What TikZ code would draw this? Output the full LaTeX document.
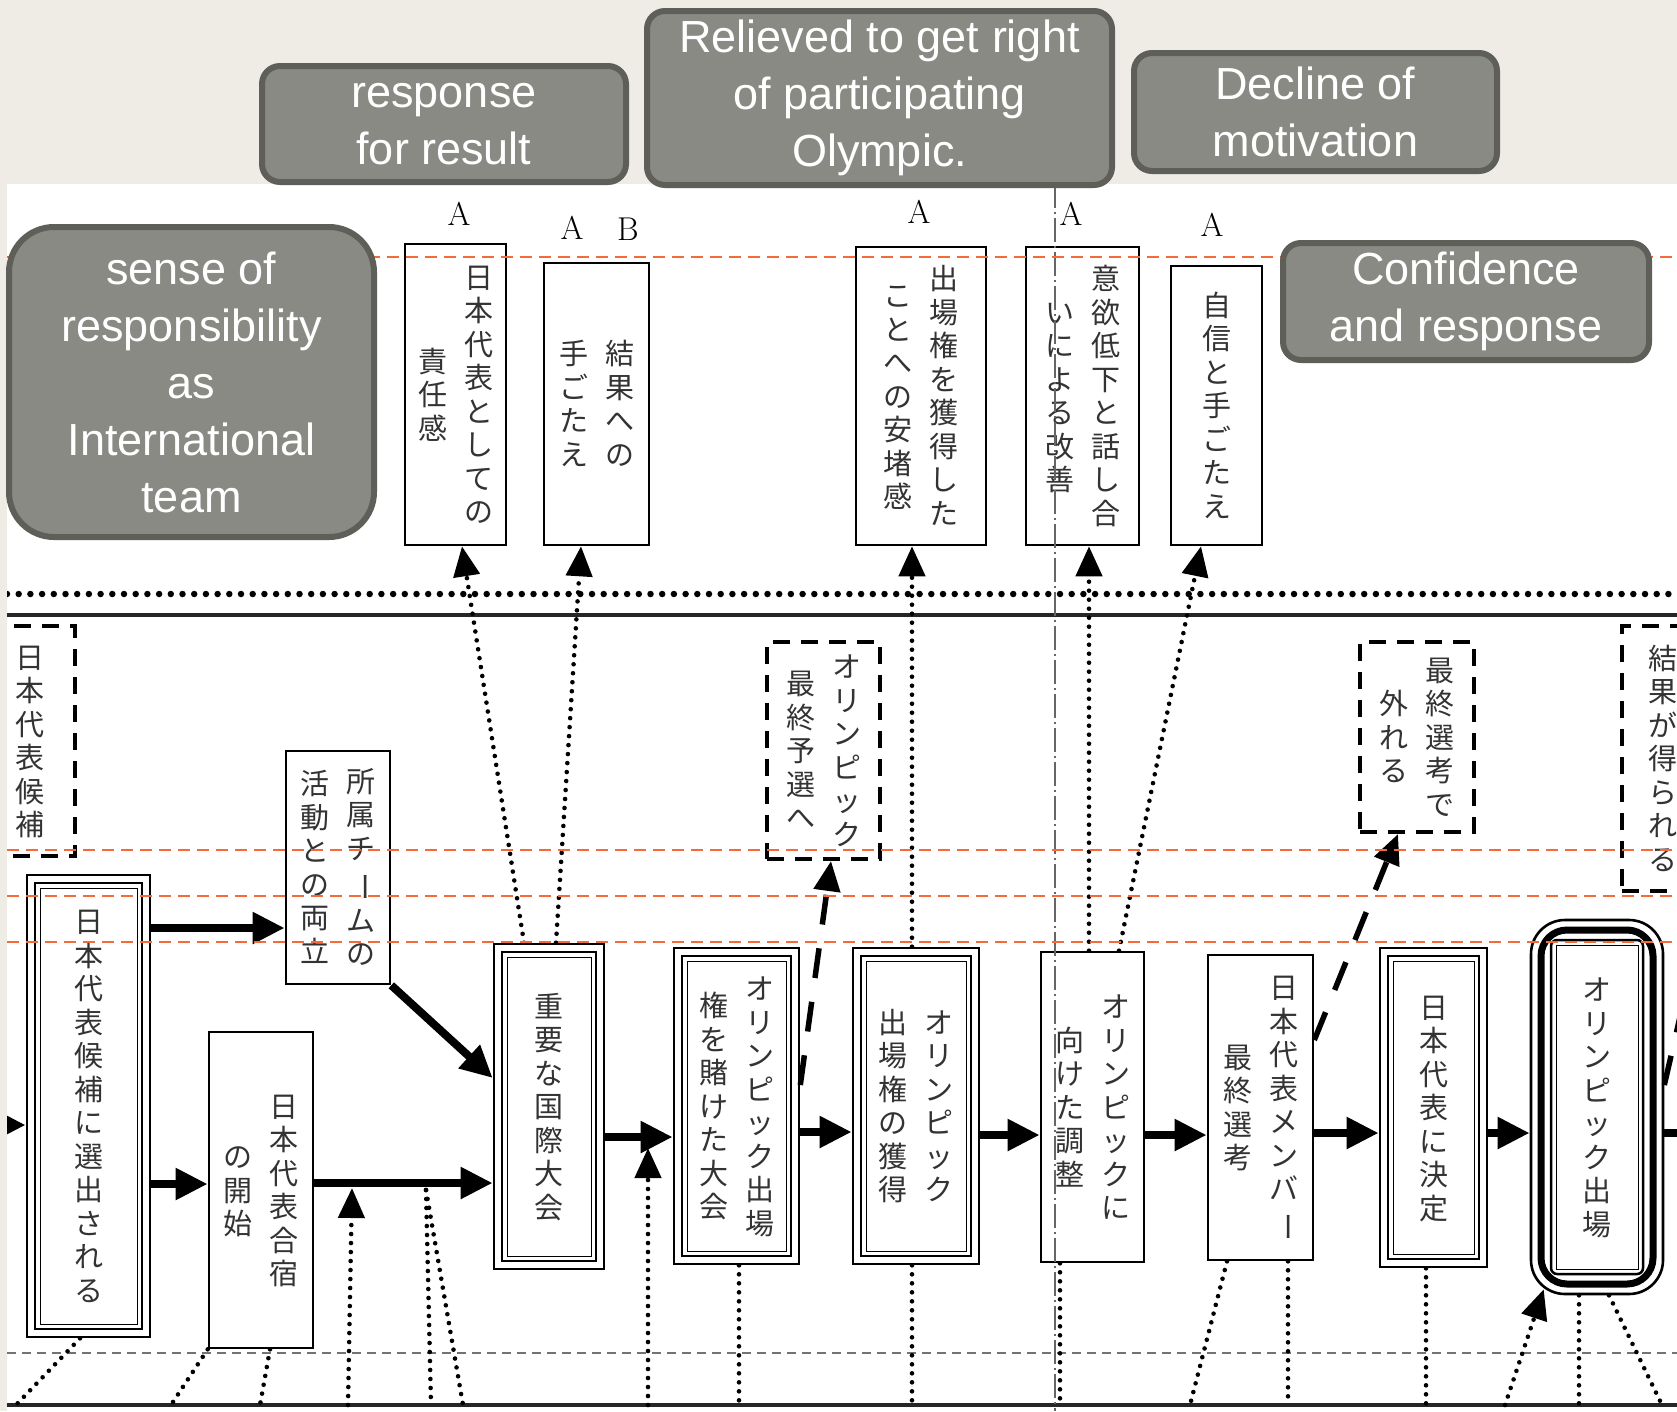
\documentclass[tikz,border=0pt]{standalone}
\usepackage{fontspec}
\usepackage{graphicx}
\usetikzlibrary{arrows.meta,calc}
\newfontfamily\jpfont{Noto Sans CJK JP}
\newfontfamily\gfont{Liberation Sans}
\definecolor{beige}{HTML}{EFECE5}
\definecolor{gfill}{HTML}{8A8A84}
\definecolor{gline}{HTML}{5F5F5A}
\definecolor{orline}{HTML}{F46A3A}

% vertical (tategaki) columns, one character per line
\def\tateend{TATEEND}
\newcommand\cho{\rotatebox[origin=c]{-90}{ー}}
\def\tateloop#1{\ifx\tateend#1\else\hbox to 1em{\hss\vrule height .88em depth .12em width 0pt\relax#1\hss}\vskip .155em\expandafter\tateloop\fi}
\newcommand\tcol[1]{\vbox{\offinterlineskip\tateloop#1\tateend\vskip-.155em}}
\newcommand\tate[2]{$\vcenter{\tcol{#2}}\hskip 17pt\vcenter{\tcol{#1}}$}
\newcommand\tatei[1]{$\vcenter{\tcol{#1}}$}

\begin{document}
\begin{tikzpicture}
	[x=1pt,y=-1pt,
	jbox/.style={draw,line width=2.6pt,fill=white,inner sep=0pt,text=black!80,
		font=\jpfont\fontsize{29}{29}\selectfont},
	wbox/.style={jbox,path picture={
		\draw[line width=2.6pt] ([shift={(8pt,-8pt)}]path picture bounding box.north west)
			rectangle ([shift={(-8pt,8pt)}]path picture bounding box.south east);
		\draw[line width=1pt] ([shift={(13pt,-13pt)}]path picture bounding box.north west)
			rectangle ([shift={(-13pt,13pt)}]path picture bounding box.south east);}},
	obox/.style={jbox,rounded corners=34pt,path picture={
		\draw[line width=7pt,rounded corners=26pt] ([shift={(10pt,-10pt)}]path picture bounding box.north west)
			rectangle ([shift={(-10pt,10pt)}]path picture bounding box.south east);
		\draw[line width=2.5pt,rounded corners=6pt] ([shift={(20pt,-20pt)}]path picture bounding box.north west)
			rectangle ([shift={(-20pt,20pt)}]path picture bounding box.south east);
		\draw[line width=1pt,sharp corners] ([shift={(25pt,-25pt)}]path picture bounding box.north west)
			rectangle ([shift={(-25pt,25pt)}]path picture bounding box.south east);}},
	dbox/.style={jbox,line width=4pt,dash pattern=on 17pt off 11pt},
	gbox/.style={draw=gline,fill=gfill,line width=6pt,rounded corners=18pt,inner sep=0pt,
		text=white,align=center,font=\gfont\fontsize{45}{57}\selectfont},
	flow/.style={line width=8pt,-{Triangle[length=32pt,width=30pt]}},
	dotl/.style={line width=4.6pt,line cap=round,dash pattern=on 0pt off 9pt},
	upar/.style={dotl,-{Triangle[length=30pt,width=26pt]}},
	dsh/.style={line width=5.5pt,dash pattern=on 30pt off 24pt,-{Triangle[length=30pt,width=26pt]}},
	orl/.style={orline,line width=2.8pt,dash pattern=on 12pt off 7pt},
	lab/.style={font=\fontsize{33}{33}\selectfont,inner sep=0pt}]
	\useasboundingbox (0,0) rectangle (1677,1411);
	\fill[beige] (0,0) rectangle (1677,1411);
	\fill[white] (7,184) rectangle (1677,1411);
	\begin{scope}
	\clip (7,184) rectangle (1677,1411);
	\draw[line width=6.5pt,line cap=round,dash pattern=on 0pt off 11.7pt] (7,594) -- (1677,594);
	\draw[line width=4pt,black!85] (7,615) -- (1677,615);
	\draw[black!55,line width=1.3pt,dash pattern=on 9pt off 6pt] (7,1353) -- (1677,1353);
	\draw[line width=3.5pt,black!85] (7,1405) -- (1677,1405);
	\coordinate (bot) at (0,1405);
	\coordinate (j1) at (426,1190);
	\coordinate (j2) at (352,1188);
	\coordinate (j3) at (648,1148);
	\coordinate (in0) at (-40,1125);
	\coordinate (out0) at (1700,1133);
	\coordinate (out1) at (1700,930);
	% upper row
	\node[jbox,minimum width=101pt,minimum height=301pt] (u1) at (455.5,394.5) {\tate{日本代表としての}{責任感}};
	\node[jbox,minimum width=105pt,minimum height=282pt] (u2) at (596.5,404) {\tate{結果への}{手ごたえ}};
	\node[jbox,minimum width=130pt,minimum height=298pt] (u3) at (921,396) {\tate{出場権を獲得した}{ことへの安堵感}};
	\node[jbox,minimum width=113pt,minimum height=298pt] (u4) at (1082.5,396) {\tate{意欲低下と話し合}{いによる改善}};
	\node[jbox,minimum width=91pt,minimum height=279pt] (u5) at (1216.5,405.5) {\tatei{自信と手ごたえ}};
	% dashed boxes
	\node[dbox,minimum width=90pt,minimum height=230pt] (d1) at (30,741) {\tatei{日本代表候補}};
	\node[dbox,minimum width=113pt,minimum height=217pt] (d2) at (823.5,750.5) {\tate{オリンピック}{最終予選へ}};
	\node[dbox,minimum width=114pt,minimum height=190pt] (d3) at (1417,737) {\tate{最終選考で}{外れる}};
	\node[dbox,minimum width=82pt,minimum height=265pt] (d4) at (1663,758.5) {\tatei{結果が得られる}};
	% main row
	\node[wbox,minimum width=123pt,minimum height=462pt] (m1) at (88.5,1106) {\tatei{日本代表候補に選出される}};
	\node[jbox,minimum width=104pt,minimum height=233pt] (m2) at (338,867.5) {\tate{所属チ\cho ムの}{活動との両立}};
	\node[jbox,minimum width=104pt,minimum height=316pt] (m3) at (261,1190) {\tate{日本代表合宿}{の開始}};
	\node[wbox,minimum width=110pt,minimum height=325pt] (m4) at (549,1106.5) {\tatei{重要な国際大会}};
	\node[wbox,minimum width=125pt,minimum height=316pt] (m5) at (736.5,1106) {\tate{オリンピック出場}{権を賭けた大会}};
	\node[wbox,minimum width=126pt,minimum height=316pt] (m6) at (916,1106) {\tate{オリンピック}{出場権の獲得}};
	\node[jbox,minimum width=103pt,minimum height=310pt] (m7) at (1092.5,1107) {\tate{オリンピックに}{向けた調整}};
	\node[jbox,minimum width=105pt,minimum height=305pt] (m8) at (1260.5,1107.5) {\tate{日本代表メンバ\cho}{最終選考}};
	\node[wbox,minimum width=107pt,minimum height=319pt] (m9) at (1433.5,1107.5) {\tatei{日本代表に決定}};
	\node[obox,minimum width=132pt,minimum height=374pt] (m10) at (1597,1107) {\tatei{オリンピック出場}};
	% flow
	\draw[flow] (in0) -- (m1.west |- in0);
	\draw[flow] (m1.east |- 0,928) -- (m2.west |- 0,928);
	\draw[flow] (m1.east |- 0,1184) -- (m3.west |- 0,1184);
	\draw[flow] (m3.east |- 0,1183) -- (m4.west |- 0,1183);
	\draw[flow] (m2.south east) -- (m4.west |- 0,1078);
	\foreach \a/\b/\y in {m4/m5/1137,m5/m6/1132,m6/m7/1135,m7/m8/1135,m8/m9/1133,m9/m10/1133}
		\draw[flow] (\a.east |- 0,\y) -- (\b.west |- 0,\y);
	\draw[line width=8pt] (m10.east |- out0) -- (out0);
	\draw[dsh] (m5.east |- 0,1085) -- (d2.south -| 831,0);
	\draw[dsh] (m8.east |- 0,1040) -- (d3.south -| 1398,0);
	\draw[dsh,-] (m10.east |- 0,1085) -- (out1);
	% links up to the upper row
	\foreach \a/\xa/\b/\xb in {m4/524/u1/462,m4/556/u2/581,m6/912/u3/912,m7/1089/u4/1089,m7/1119/u5/1201}
		\draw[upar] (\a.north -| \xa,0) -- (\b.south -| \xb,0);
	% links down
	\foreach \a/\x in {m5/739,m6/912,m7/1060,m8/1288,m9/1426,m10/1579}
		\draw[dotl] (\a.south -| \x,0) -- (bot -| \x,0);
	\draw[dotl] (m1.south -| 80,0) -- (bot -| 16,0);
	\draw[dotl] (m3.south west) -- (bot -| 171,0);
	\draw[dotl] (m3.south -| 270,0) -- (bot -| 260,0);
	\draw[dotl] (j1) -- (bot -| 431,0);
	\draw[dotl] (j1) -- (bot -| 463,0);
	\draw[dotl] (m8.south -| 1227,0) -- (bot -| 1190,0);
	\draw[dotl] (m10.south -| 1609,0) -- (bot -| 1662,0);
	\draw[upar] (bot -| 348,0) -- (j2);
	\draw[upar] (bot -| 648,0) -- (j3);
	\draw[upar] (bot -| 1505,0) -- ([xshift=14pt,yshift=6pt]m10.south west);
	\draw[black!60,line width=1.2pt,dash pattern=on 24pt off 4pt on 2pt off 4pt] (1055,184) -- (1055,1411);
	\foreach \y in {257,850,896,942}
		\draw[orl] (7,\y) -- (1677,\y);
	\node[lab] (la1) at (459,214) {A};
	\node[lab] (la2) at (572,228) {A};
	\node[lab] (lb2) at (628,229) {B};
	\node[lab] (la3) at (919,212) {A};
	\node[lab] (la4) at (1071,214) {A};
	\node[lab] (la5) at (1212,225) {A};
	\end{scope}
	% english notes
	\node[gbox,minimum width=364pt,minimum height=116pt] (g1) at (444,124) {response\\for result};
	\node[gbox,minimum width=465pt,minimum height=174pt] (g2) at (879.5,98) {Relieved to get right\\of participating\\Olympic.};
	\node[gbox,minimum width=363pt,minimum height=118pt] (g3) at (1315.5,112) {Decline of\\motivation};
	\node[gbox,rounded corners=45pt,minimum width=365pt,minimum height=310pt] (g4) at (191.5,382) {sense of\\responsibility\\as\\International\\team};
	\node[gbox,minimum width=366pt,minimum height=117pt] (g5) at (1466,301.5) {Confidence\\and response};
\end{tikzpicture}
\end{document}
